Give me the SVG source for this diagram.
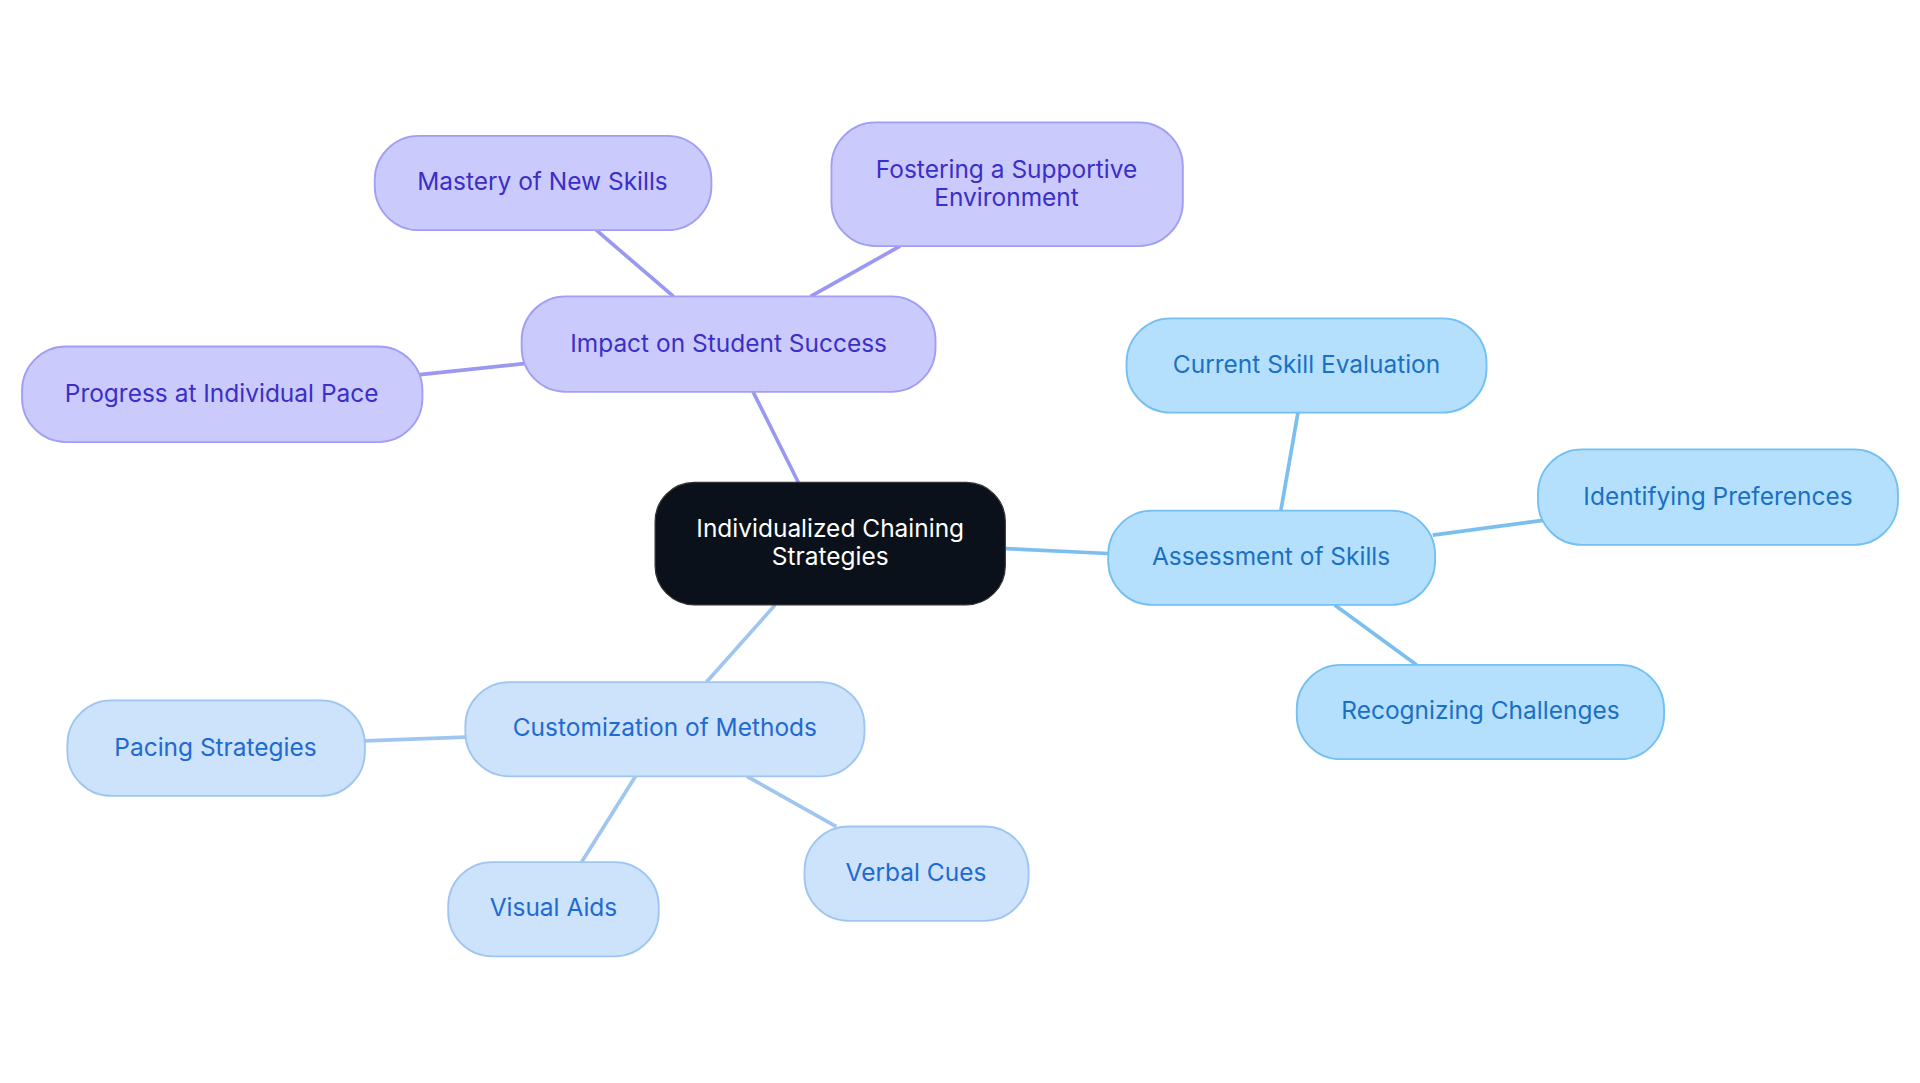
<svg xmlns="http://www.w3.org/2000/svg" width="1920" height="1083" viewBox="0 0 1920 1083">
<style>
text{font-family:Inter,"Liberation Sans",sans-serif;font-size:20px;text-anchor:middle;dominant-baseline:central}
.p rect{fill:#cbcafd;stroke:#a19ef3;stroke-width:1.5}
.p text{fill:#3c2fc6}
.a rect{fill:#b5e0fd;stroke:#74c0f2;stroke-width:1.5}
.a text{fill:#1a70c4}
.c rect{fill:#cde2fb;stroke:#9fc6f1;stroke-width:1.5}
.c text{fill:#1f6ad0}
.e line{stroke-width:3}
</style>
<rect width="1920" height="1083" fill="#fff"/>
<g transform="scale(1.2245)">
<g id="connectors" class="e">
<line x1="652" y1="394" x2="615" y2="320" stroke="#9a98f0"/>
<line x1="550" y1="242" x2="487" y2="188" stroke="#9a98f0"/>
<line x1="662" y1="242" x2="735" y2="201" stroke="#9a98f0"/>
<line x1="428" y1="297" x2="343" y2="306" stroke="#9a98f0"/>
<line x1="821" y1="448" x2="905" y2="452" stroke="#7bbfef"/>
<line x1="1046" y1="417" x2="1060" y2="337" stroke="#7bbfef"/>
<line x1="1170" y1="437" x2="1260" y2="425" stroke="#7bbfef"/>
<line x1="1090" y1="494" x2="1157" y2="543" stroke="#7bbfef"/>
<line x1="633" y1="494" x2="577" y2="557" stroke="#a0c6f0"/>
<line x1="380" y1="602" x2="298" y2="605" stroke="#a0c6f0"/>
<line x1="519" y1="634" x2="475" y2="704" stroke="#a0c6f0"/>
<line x1="610" y1="634" x2="683" y2="675" stroke="#a0c6f0"/>
</g>
<g id="center"><rect x="535" y="394" width="286" height="100" rx="32" fill="#0b111a" stroke="#333" stroke-width="1"/><text x="678" y="431" fill="#fff">Individualized Chaining</text><text x="678" y="454" fill="#fff">Strategies</text></g>
<g id="impact" class="p"><rect x="426" y="242" width="338" height="78" rx="36"/><text x="595" y="280">Impact on Student Success</text></g>
<g id="mastery" class="p"><rect x="306" y="111" width="275" height="77" rx="36"/><text x="443" y="148">Mastery of New Skills</text></g>
<g id="fostering" class="p"><rect x="679" y="100" width="287" height="101" rx="36"/><text x="822" y="138">Fostering a Supportive</text><text x="822" y="161">Environment</text></g>
<g id="progress" class="p"><rect x="18" y="283" width="327" height="78" rx="36"/><text x="181" y="321">Progress at Individual Pace</text></g>
<g id="assessment" class="a"><rect x="905" y="417" width="267" height="77" rx="36"/><text x="1038" y="454">Assessment of Skills</text></g>
<g id="current" class="a"><rect x="920" y="260" width="294" height="77" rx="36"/><text x="1067" y="297">Current Skill Evaluation</text></g>
<g id="identifying" class="a"><rect x="1256" y="367" width="294" height="78" rx="36"/><text x="1403" y="405">Identifying Preferences</text></g>
<g id="recognizing" class="a"><rect x="1059" y="543" width="300" height="77" rx="36"/><text x="1209" y="580">Recognizing Challenges</text></g>
<g id="customization" class="c"><rect x="380" y="557" width="326" height="77" rx="36"/><text x="543" y="594">Customization of Methods</text></g>
<g id="pacing" class="c"><rect x="55" y="572" width="243" height="78" rx="36"/><text x="176" y="610">Pacing Strategies</text></g>
<g id="visual" class="c"><rect x="366" y="704" width="172" height="77" rx="36"/><text x="452" y="741">Visual Aids</text></g>
<g id="verbal" class="c"><rect x="657" y="675" width="183" height="77" rx="36"/><text x="748" y="712">Verbal Cues</text></g>
</g>
</svg>
